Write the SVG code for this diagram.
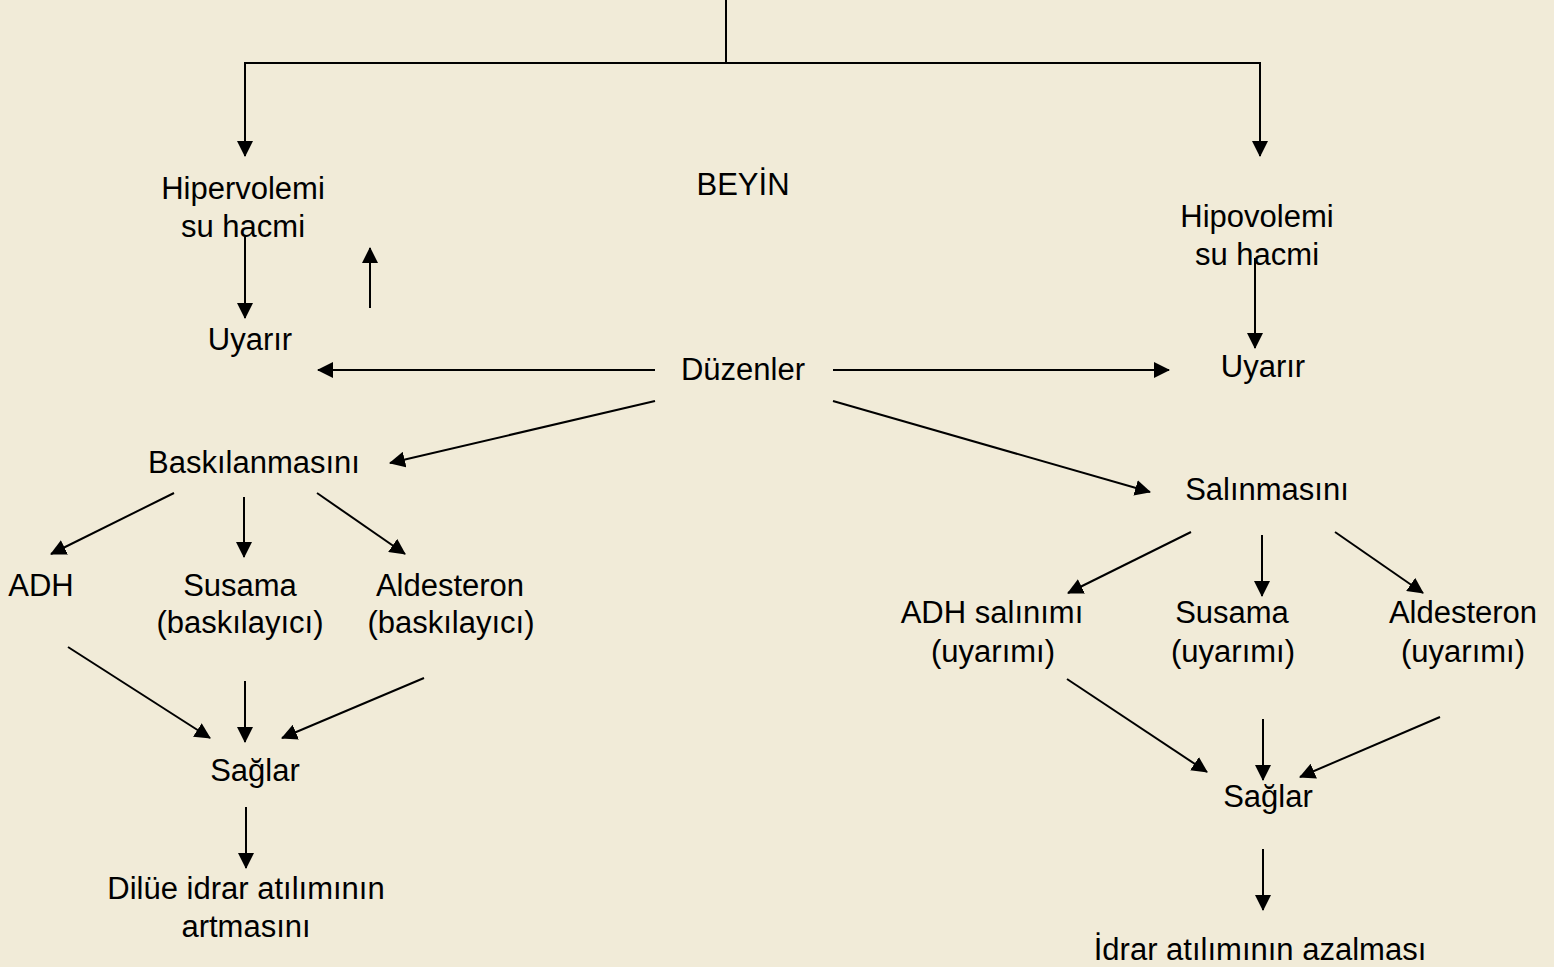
<svg xmlns="http://www.w3.org/2000/svg" width="1554" height="967" viewBox="0 0 1554 967">
<defs>
<style>
text{font-family:"Liberation Sans",Arial,sans-serif;font-size:31px;fill:#000;text-anchor:middle}
.c line,.c polyline{stroke:#000;stroke-width:2;fill:none}
.a{marker-end:url(#ah)}
</style>
<marker id="ah" viewBox="0 0 16 16" refX="15" refY="8" markerWidth="16" markerHeight="16" markerUnits="userSpaceOnUse" orient="auto">
<path d="M0,0 L16,8 L0,16 z" fill="#000"/>
</marker>
</defs>
<rect width="1554" height="967" fill="#F1EBD8"/>
<g id="connectors" class="c">
<line x1="726" y1="0" x2="726" y2="63"/>
<polyline points="245,156 245,63 1260,63 1260,156"/>
<line x1="245" y1="100" x2="245" y2="156" class="a"/>
<line x1="1260" y1="100" x2="1260" y2="156" class="a"/>
<line x1="245" y1="236" x2="245" y2="318" class="a"/>
<line x1="370" y1="308" x2="370" y2="248" class="a"/>
<line x1="655" y1="370" x2="318" y2="370" class="a"/>
<line x1="833" y1="370" x2="1169" y2="370" class="a"/>
<line x1="1255" y1="258" x2="1255" y2="348" class="a"/>
<line x1="655" y1="401" x2="390" y2="463" class="a"/>
<line x1="833" y1="401" x2="1150" y2="492" class="a"/>
<line x1="174" y1="493" x2="51" y2="554" class="a"/>
<line x1="244" y1="497" x2="244" y2="557" class="a"/>
<line x1="317" y1="493" x2="405" y2="554" class="a"/>
<line x1="68" y1="647" x2="210" y2="738" class="a"/>
<line x1="245" y1="681" x2="245" y2="742" class="a"/>
<line x1="424" y1="678" x2="282" y2="738" class="a"/>
<line x1="246" y1="807" x2="246" y2="868" class="a"/>
<line x1="1191" y1="532" x2="1068" y2="593" class="a"/>
<line x1="1262" y1="535" x2="1262" y2="596" class="a"/>
<line x1="1335" y1="532" x2="1423" y2="593" class="a"/>
<line x1="1067" y1="679" x2="1207" y2="772" class="a"/>
<line x1="1263" y1="719" x2="1263" y2="780" class="a"/>
<line x1="1440" y1="717" x2="1300" y2="777" class="a"/>
<line x1="1263" y1="849" x2="1263" y2="910" class="a"/>
</g>
<g id="hipervolemi"><text x="243" y="199">Hipervolemi</text><text x="243" y="237">su hacmi</text></g>
<g id="beyin"><text x="743" y="195">BEYİN</text></g>
<g id="hipovolemi"><text x="1257" y="227">Hipovolemi</text><text x="1257" y="265">su hacmi</text></g>
<g id="uyarir-left"><text x="250" y="350">Uyarır</text></g>
<g id="duzenler"><text x="743" y="380">Düzenler</text></g>
<g id="uyarir-right"><text x="1263" y="377">Uyarır</text></g>
<g id="baskilanmasini"><text x="254" y="473">Baskılanmasını</text></g>
<g id="salinmasini"><text x="1267" y="500">Salınmasını</text></g>
<g id="adh-left"><text x="41" y="596">ADH</text></g>
<g id="susama-left"><text x="240" y="596">Susama</text><text x="240" y="633">(baskılayıcı)</text></g>
<g id="aldesteron-left"><text x="450" y="596">Aldesteron</text><text x="451" y="633">(baskılayıcı)</text></g>
<g id="adh-right"><text x="992" y="623">ADH salınımı</text><text x="993" y="662">(uyarımı)</text></g>
<g id="susama-right"><text x="1232" y="623">Susama</text><text x="1233" y="662">(uyarımı)</text></g>
<g id="aldesteron-right"><text x="1463" y="623">Aldesteron</text><text x="1463" y="662">(uyarımı)</text></g>
<g id="saglar-left"><text x="255" y="781">Sağlar</text></g>
<g id="saglar-right"><text x="1268" y="807">Sağlar</text></g>
<g id="dilue"><text x="246" y="899">Dilüe idrar atılımının</text><text x="246" y="937">artmasını</text></g>
<g id="idrar"><text x="1260" y="960">İdrar atılımının azalması</text></g>
</svg>
